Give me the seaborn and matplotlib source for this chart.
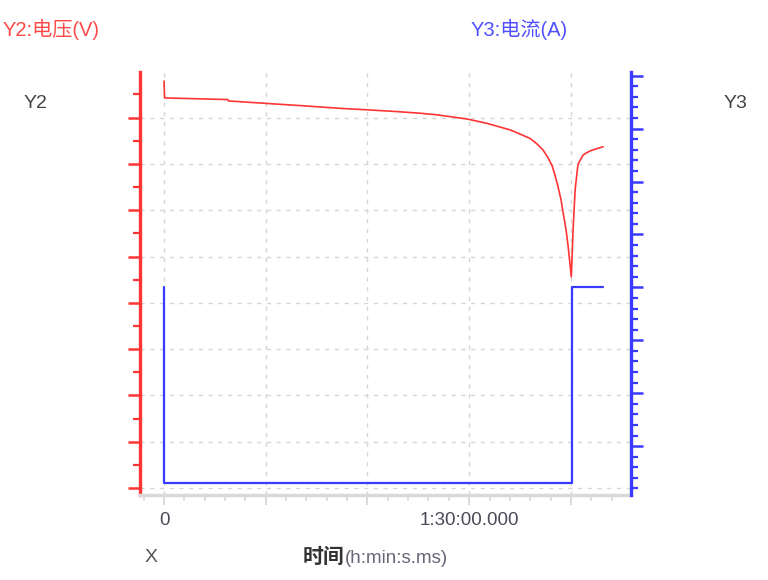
import numpy as np
import pandas as pd
import matplotlib
matplotlib.use("Agg")
import matplotlib.pyplot as plt
from matplotlib.ticker import MultipleLocator, FuncFormatter
import seaborn as sns

sns.set_theme(style="white")
plt.rcParams["font.family"] = ["Liberation Sans", "Noto Sans CJK SC"]

# ── Data (time in seconds) ────────────────────────────────────────────────
volt_t = [0, 10, 1130, 1140, 1646, 2018, 2531, 3115, 3646, 4124, 4531, 4832,
          5363, 5717, 6124, 6301, 6478, 6602, 6708, 6797, 6868, 6921, 6974,
          7027, 7062, 7115, 7151, 7177, 7208,
          7239, 7275, 7310, 7328, 7416, 7469, 7540, 7646, 7770]
volt_v = [3.758, 3.685, 3.678, 3.672, 3.664, 3.658, 3.650, 3.640, 3.633, 3.626,
          3.619, 3.612, 3.594, 3.575, 3.547, 3.529, 3.510, 3.486, 3.460, 3.426,
          3.392, 3.350, 3.300, 3.244, 3.190, 3.115, 3.045, 2.985, 2.912,
          3.115, 3.287, 3.365, 3.400, 3.438, 3.447, 3.456, 3.465, 3.474]

curr_t = [0, 0, 7215, 7215, 7770]
curr_a = [4.0, 0.3, 0.3, 4.0, 4.0]

RED = "#ff3535"
BLUE = "#3a3aff"
GRID = "#d6d6d6"
AXGRAY = "#d9d9d9"

volt_df = pd.DataFrame({"t": volt_t, "v": volt_v})
curr_df = pd.DataFrame({"t": curr_t, "a": curr_a})

fig = plt.figure(figsize=(7.68, 5.8), dpi=100)
ax = fig.add_axes([140 / 768, 1 - 495 / 580, (631 - 140) / 768, (495 - 72) / 580])
ax2 = ax.twinx()

sns.lineplot(data=volt_df, x="t", y="v", ax=ax, color=RED, linewidth=1.2,
             sort=False, estimator=None)
sns.lineplot(data=curr_df, x="t", y="a", ax=ax2, color=BLUE, linewidth=1.6,
             sort=False, estimator=None)

# ── Axes limits / ticks ───────────────────────────────────────────────────
ax.set_xlim(-425, 8264)
ax.set_ylim(1.97, 3.797)
ax2.set_ylim(0.076, 8.07)

ax.xaxis.set_major_locator(MultipleLocator(1800))
ax.xaxis.set_minor_locator(MultipleLocator(360))
ax.yaxis.set_major_locator(MultipleLocator(0.2))
ax.yaxis.set_minor_locator(MultipleLocator(0.1))
ax2.yaxis.set_major_locator(MultipleLocator(1.0))
ax2.yaxis.set_minor_locator(MultipleLocator(0.2))


def fmt_time(x, pos):
    s = int(round(x))
    if s == 0:
        return "0"
    if s == 5400:
        h, rem = divmod(s, 3600)
        m, sec = divmod(rem, 60)
        return f"{h}:{m:02d}:{sec:02d}.000"
    return ""


ax.xaxis.set_major_formatter(FuncFormatter(fmt_time))
ax.set_xlabel("")
ax.set_ylabel("")
ax2.set_ylabel("")

ax.grid(True, which="major", color=GRID, linestyle=(0, (3, 4)), linewidth=1.0)
ax.set_axisbelow(True)

for a in (ax, ax2):
    for sp in a.spines.values():
        sp.set_visible(False)

ax.spines["left"].set_visible(True)
ax.spines["left"].set_color(RED)
ax.spines["left"].set_linewidth(2.4)
ax.spines["bottom"].set_visible(True)
ax.spines["bottom"].set_color(AXGRAY)
ax.spines["bottom"].set_linewidth(2.5)
ax2.spines["right"].set_visible(True)
ax2.spines["right"].set_color(BLUE)
ax2.spines["right"].set_linewidth(2.4)

ax.tick_params(axis="y", which="major", direction="out", length=8.5, width=1.8,
               color=RED, left=True, labelleft=False)
ax.tick_params(axis="y", which="minor", direction="out", length=5, width=1.6,
               color=RED, left=True)
ax.tick_params(axis="x", which="major", direction="out", length=7, width=1.4,
               color=AXGRAY, bottom=True, pad=5, labelsize=13.5,
               labelcolor="#4a4a58")
ax.tick_params(axis="x", which="minor", direction="out", length=4, width=1.2,
               color=AXGRAY, bottom=True)
ax2.tick_params(axis="y", which="major", direction="out", length=8.5, width=1.8,
                color=BLUE, right=True, labelright=False)
ax2.tick_params(axis="y", which="minor", direction="out", length=5, width=1.6,
                color=BLUE, right=True)

# ── Texts ─────────────────────────────────────────────────────────────────
def px(x, y):
    return x / 768, 1 - y / 580


fig.text(*px(3, 29), "Y2:电压(V)", color="#ff4a4a", fontsize=14.5,
         ha="left", va="center")
fig.text(*px(471, 29), "Y3:电流(A)", color="#5050ff", fontsize=14.5,
         ha="left", va="center")
fig.text(*px(35, 103), "Y2", color="#444444", fontsize=14,
         ha="center", va="center")
fig.text(*px(735, 103), "Y3", color="#444444", fontsize=14,
         ha="center", va="center")
fig.text(*px(151, 558), "X", color="#555555", fontsize=14,
         ha="center", va="center")
fig.text(*px(344, 563), "时间", color="#333333", fontsize=15, fontweight="bold",
         ha="right", va="baseline")
fig.text(*px(345, 563), "(h:min:s.ms)", color="#666677", fontsize=13.5,
         ha="left", va="baseline")

fig.savefig("out.png", dpi=100)
plt.close(fig)
